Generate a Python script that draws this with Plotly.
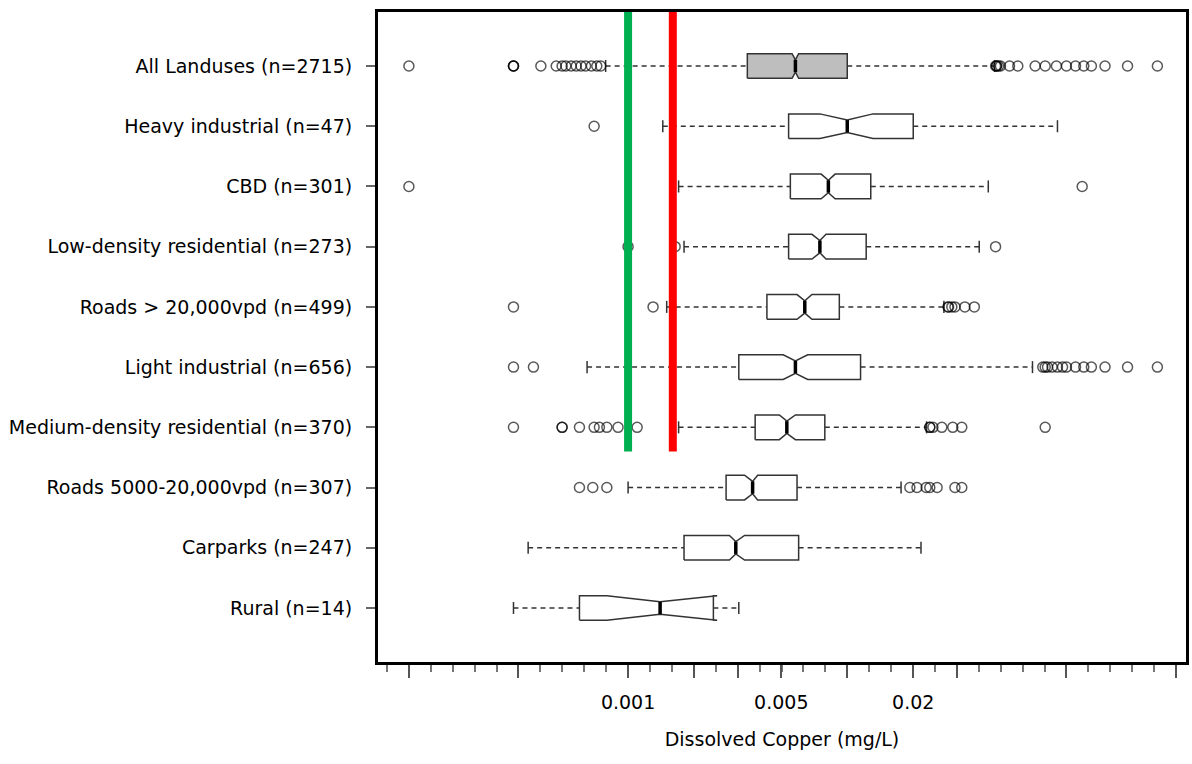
import numpy as np
import plotly.graph_objects as go

# Land-use categories, top to bottom
labels = [
    "All Landuses (n=2715)",
    "Heavy industrial (n=47)",
    "CBD (n=301)",
    "Low-density residential (n=273)",
    "Roads > 20,000vpd (n=499)",
    "Light industrial (n=656)",
    "Medium-density residential (n=370)",
    "Roads 5000-20,000vpd (n=307)",
    "Carparks (n=247)",
    "Rural (n=14)",
]

# Box statistics, dissolved copper in mg/L
whisker_lo = [0.00079, 0.00144, 0.0017, 0.0018, 0.0015, 0.00065, 0.0017, 0.0010, 0.00035, 0.0003]
q1         = [0.0035, 0.0054, 0.0055, 0.0054, 0.0043, 0.0032, 0.0038, 0.0028, 0.0018, 0.0006]
notch_lo   = [0.0056, 0.0075, 0.0076, 0.0069, 0.0059, 0.0051, 0.0049, 0.0034, 0.0029, 0.0008]
median     = [0.0058, 0.0100, 0.0082, 0.0075, 0.0064, 0.0058, 0.0053, 0.0037, 0.0031, 0.0014]
notch_hi   = [0.0060, 0.0131, 0.0088, 0.0080, 0.0069, 0.0066, 0.0058, 0.0039, 0.0034, 0.00255]
q3         = [0.0100, 0.0200, 0.0128, 0.0122, 0.0092, 0.0115, 0.0079, 0.0059, 0.0060, 0.00245]
whisker_hi = [0.047, 0.091, 0.044, 0.040, 0.0276, 0.070, 0.023, 0.0176, 0.0217, 0.0032]

# Outlying samples per category (mg/L)
out_all = [0.0001, 0.0003, 0.0003, 0.0003, 0.0004, 0.00047, 0.0005, 0.00052, 0.00055, 0.00058,
           0.00061, 0.00064, 0.00068, 0.00072, 0.00075,
           0.0475, 0.048, 0.048, 0.049, 0.05, 0.055, 0.06, 0.072, 0.08, 0.09, 0.10,
           0.11, 0.12, 0.13, 0.15, 0.19, 0.26]
out_heavy = [0.0007]
out_cbd = [0.0001, 0.118]
out_lowres = [0.001, 0.00164, 0.0475]
out_roads_hi = [0.0003, 0.0013, 0.0288, 0.029, 0.030, 0.031, 0.0344, 0.038]
out_light = [0.0003, 0.00037, 0.078, 0.08, 0.082, 0.086, 0.091, 0.096, 0.10, 0.11,
             0.12, 0.13, 0.15, 0.19, 0.26]
out_medres = [0.0003, 0.0005, 0.0005, 0.0006, 0.0007, 0.00074, 0.0008, 0.0009, 0.0011,
              0.0238, 0.0238, 0.0246, 0.027, 0.0303, 0.0333, 0.08]
out_roads_mid = [0.0006, 0.00069, 0.0008, 0.0193, 0.0208, 0.0229, 0.0238, 0.0257, 0.031, 0.0333]
out_carparks = []
out_rural = []
outliers = [out_all, out_heavy, out_cbd, out_lowres, out_roads_hi, out_light,
            out_medres, out_roads_mid, out_carparks, out_rural]

box_fill = ["#bebebe"] + ["white"] * 9

# Guideline values (mg/L)
guide_green = 0.001
guide_red = 0.0016
guide_floor = 3.6

# Axis ticks
long_ticks = [0.0001, 10 ** -3.5, 0.001, 0.002, 10 ** -2.5, 0.005, 0.01, 0.02,
              10 ** -1.5, 0.1, 10 ** -0.5]
labelled = {0.001: "0.001", 0.005: "0.005", 0.02: "0.02"}

lg = np.log10
n = len(labels)
pos = [n - i for i in range(n)]
hw = 0.205      # half box height
cap = 0.10      # half staple height

FONT = "DejaVu Sans"
INK = "#333333"
fig = go.Figure()

# dashed whiskers
wx, wy = [], []
for i, p in enumerate(pos):
    wx += [lg(whisker_lo[i]), lg(q1[i]), None, lg(q3[i]), lg(whisker_hi[i]), None]
    wy += [p, p, None, p, p, None]
fig.add_trace(go.Scatter(x=wx, y=wy, mode="lines", hoverinfo="skip", showlegend=False,
                         line=dict(color=INK, width=1.5, dash="5px,4px")))

# whisker staples
sx, sy = [], []
for i, p in enumerate(pos):
    for v in (whisker_lo[i], whisker_hi[i]):
        sx += [lg(v), lg(v), None]
        sy += [p - cap, p + cap, None]
fig.add_trace(go.Scatter(x=sx, y=sy, mode="lines", hoverinfo="skip", showlegend=False,
                         line=dict(color=INK, width=1.5)))

# notched boxes
for i, p in enumerate(pos):
    a, nl, m, nh, b = lg(q1[i]), lg(notch_lo[i]), lg(median[i]), lg(notch_hi[i]), lg(q3[i])
    bx = [a, a, nl, m, nh, b, b, nh, m, nl, a]
    by = [p - hw, p + hw, p + hw, p + hw / 2, p + hw, p + hw, p - hw, p - hw, p - hw / 2, p - hw, p - hw]
    fig.add_trace(go.Scatter(x=bx, y=by, mode="lines", fill="toself", fillcolor=box_fill[i],
                             line=dict(color=INK, width=1.5), hoverinfo="skip",
                             showlegend=False))

# medians
mx, my = [], []
for i, p in enumerate(pos):
    mx += [lg(median[i]), lg(median[i]), None]
    my += [p - hw / 2, p + hw / 2, None]
fig.add_trace(go.Scatter(x=mx, y=my, mode="lines", hoverinfo="skip", showlegend=False,
                         line=dict(color="black", width=3.5)))

# outliers
ox, oy = [], []
for i, p in enumerate(pos):
    ox += [lg(v) for v in outliers[i]]
    oy += [p] * len(outliers[i])
fig.add_trace(go.Scatter(x=ox, y=oy, mode="markers", hoverinfo="skip", showlegend=False,
                         marker=dict(symbol="circle-open", size=10, color="rgba(0,0,0,0.65)",
                                     line=dict(width=1.5))))

# guideline values
for g, c in ((guide_green, "#00b050"), (guide_red, "#ff0000")):
    fig.add_trace(go.Scatter(x=[lg(g), lg(g)], y=[guide_floor, n + 2], mode="lines",
                             hoverinfo="skip", showlegend=False,
                             line=dict(color=c, width=8)))

tickvals = [lg(v) for v in long_ticks]
ticktext = [next((t for k, t in labelled.items() if abs(k - v) < 1e-12), "") for v in long_ticks]

fig.update_layout(
    width=1192, height=764,
    margin=dict(l=378, r=3, t=12, b=102),
    paper_bgcolor="white", plot_bgcolor="white",
    font=dict(family=FONT, size=19, color="black"),
    xaxis=dict(
        range=[-4.141, -0.4545],
        tickmode="array", tickvals=tickvals, ticktext=ticktext,
        ticks="outside", ticklen=13, tickwidth=1.5, tickcolor="#555555",
        ticklabelstandoff=8,
        minor=dict(tick0=0, dtick=0.1, ticks="outside", ticklen=7, tickwidth=1.5,
                   tickcolor="#777777", showgrid=False),
        showline=True, linewidth=3, linecolor="black", mirror=True,
        showgrid=False, zeroline=False,
        title=dict(text="Dissolved Copper (mg/L)", standoff=21,
                   font=dict(family=FONT, size=19)),
        tickfont=dict(family=FONT, size=19),
    ),
    yaxis=dict(
        range=[0.103, 10.897],
        tickmode="array", tickvals=pos, ticktext=labels,
        ticks="outside", ticklen=9, tickwidth=1.5, tickcolor="#666666",
        ticklabelstandoff=10,
        showline=True, linewidth=3, linecolor="black", mirror=True,
        showgrid=False, zeroline=False,
        tickfont=dict(family=FONT, size=19),
    ),
)

fig.write_html("out.html")
